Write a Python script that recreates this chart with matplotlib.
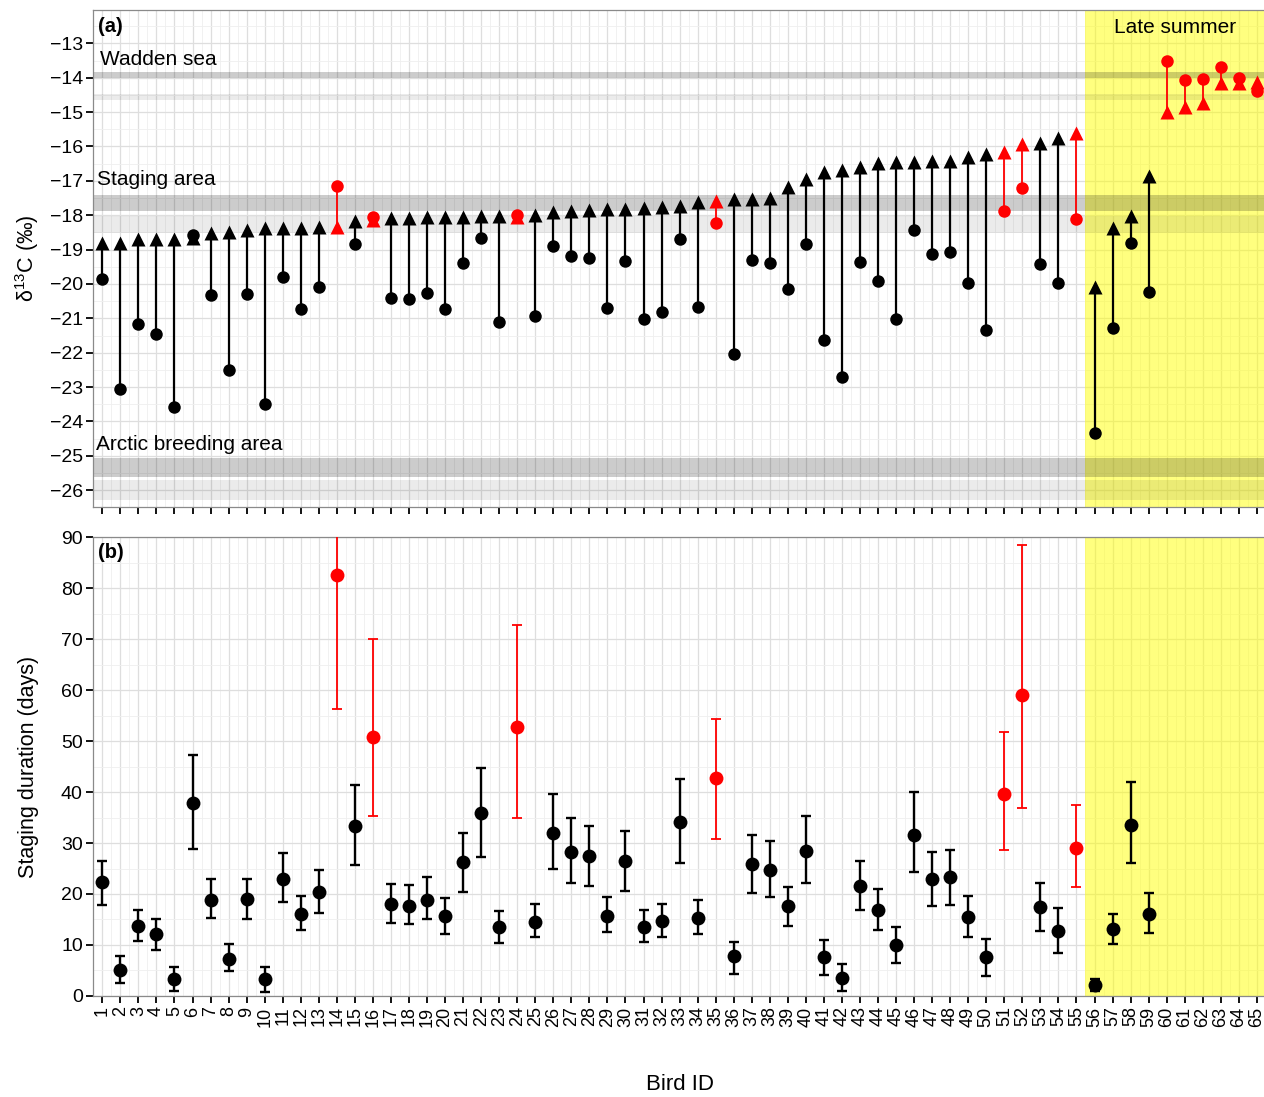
import numpy as np
import matplotlib
matplotlib.use('Agg')
import matplotlib.pyplot as plt
from matplotlib.ticker import MultipleLocator

plt.rcParams['font.family'] = ['Liberation Sans', 'DejaVu Sans']
plt.rcParams['mathtext.fontset'] = 'custom'
plt.rcParams['mathtext.rm'] = 'Liberation Sans'
plt.rcParams['mathtext.default'] = 'regular'

# --- data ---------------------------------------------------------------
bird_ids = list(range(1, 66))

# delta13C at start (circle) and end (triangle)
d13c_start = [-19.87, -23.07, -21.17, -21.47, -23.57, -18.58, -20.32, -22.49, -20.30, -23.50,
              -19.79, -20.73, -20.10, -17.14, -18.84, -18.06, -20.40, -20.45, -20.26, -20.74,
              -19.38, -18.66, -21.11, -17.98, -20.94, -18.90, -19.18, -19.24, -20.69, -19.34,
              -21.03, -20.83, -18.70, -20.68, -18.24, -22.04, -19.29, -19.40, -20.15, -18.85,
              -21.64, -22.70, -19.37, -19.92, -21.02, -18.43, -19.13, -19.08, -19.97, -21.33,
              -17.87, -17.21, -19.43, -19.98, -18.12, -24.35, -21.27, -18.80, -20.23, -13.51,
              -14.07, -14.03, -13.70, -14.02, -14.38]
d13c_end = [-18.82, -18.82, -18.68, -18.68, -18.68, -18.65, -18.53, -18.48, -18.43, -18.36,
            -18.36, -18.36, -18.34, -18.34, -18.16, -18.14, -18.09, -18.09, -18.04, -18.04,
            -18.04, -18.02, -18.02, -18.04, -17.98, -17.90, -17.87, -17.85, -17.83, -17.83,
            -17.79, -17.75, -17.72, -17.63, -17.59, -17.54, -17.52, -17.50, -17.19, -16.95,
            -16.73, -16.69, -16.59, -16.49, -16.46, -16.44, -16.42, -16.41, -16.30, -16.22,
            -16.16, -15.93, -15.89, -15.74, -15.62, -20.08, -18.36, -18.02, -16.85, -14.99,
            -14.84, -14.73, -14.16, -14.16, -14.12]
red_birds = [14, 16, 24, 35, 51, 52, 55, 60, 61, 62, 63, 64, 65]

# staging duration (days) with interval (birds 1-59)
stay_mean = [22.3, 5.1, 13.7, 12.1, 3.3, 37.8, 18.9, 7.3, 19.1, 3.3,
             22.9, 16.1, 20.4, 82.6, 33.4, 50.8, 18.0, 17.7, 18.9, 15.7,
             26.2, 35.8, 13.6, 52.8, 14.6, 31.9, 28.3, 27.4, 15.7, 26.4,
             13.6, 14.8, 34.1, 15.3, 42.7, 7.8, 25.9, 24.8, 17.6, 28.5,
             7.7, 3.6, 21.6, 16.9, 9.9, 31.5, 22.9, 23.3, 15.5, 7.6,
             39.6, 59.1, 17.5, 12.8, 29.0, 2.1, 13.2, 33.5, 16.1]
stay_low = [17.8, 2.6, 10.8, 9.1, 0.9, 28.9, 15.2, 4.8, 15.0, 0.8,
            18.4, 12.9, 16.3, 56.2, 25.6, 35.3, 14.3, 14.2, 15.1, 12.2,
            20.4, 27.2, 10.4, 35.0, 11.6, 25.0, 22.2, 21.5, 12.5, 20.6,
            10.5, 11.5, 26.1, 12.1, 30.8, 4.4, 20.2, 19.5, 13.7, 22.1,
            4.2, 0.9, 16.8, 12.9, 6.4, 24.3, 17.6, 17.8, 11.6, 3.9,
            28.7, 36.8, 12.8, 8.5, 21.3, 0.9, 10.2, 26.1, 12.4]
stay_high = [26.5, 7.8, 16.9, 15.0, 5.7, 47.2, 23.0, 10.2, 22.9, 5.7,
             28.0, 19.7, 24.8, 96.0, 41.3, 70.1, 21.9, 21.8, 23.3, 19.2,
             32.0, 44.7, 16.7, 72.7, 18.0, 39.7, 34.9, 33.4, 19.4, 32.3,
             16.9, 18.0, 42.5, 18.9, 54.3, 10.6, 31.5, 30.4, 21.4, 35.3,
             10.9, 6.2, 26.5, 21.0, 13.6, 40.0, 28.3, 28.7, 19.7, 11.1,
             51.7, 88.5, 22.2, 17.2, 37.4, 3.3, 16.1, 41.9, 20.1]

# reference bands (dark, light) for each habitat
band_names = ['Wadden sea', 'Staging area', 'Arctic breeding area']
band_dark = [(-14.02, -13.83), (-17.87, -17.40), (-25.63, -25.05)]
band_light = [(-14.65, -14.48), (-18.53, -18.03), (-26.29, -25.71)]
band_label_pos = [(0.87, -13.63), (0.71, -17.12), (0.65, -24.83)]
late_summer = (55.5, 65.5)

# --- figure -------------------------------------------------------------
fig = plt.figure(figsize=(12.64, 10.97), dpi=100)
ax1 = fig.add_axes([0.0738, 0.5378, 0.9277, 0.4531])
ax2 = fig.add_axes([0.0738, 0.0921, 0.9277, 0.4183])

def style_axes(ax):
    ax.set_axisbelow(True)
    ax.grid(which='major', color='#dedede', linewidth=0.9)
    ax.grid(which='minor', color='#efefef', linewidth=0.6)
    for s in ax.spines.values():
        s.set_color('#8a8a8a')
        s.set_linewidth(0.9)
    ax.tick_params(which='major', length=5, width=1.3, color='black',
                   labelcolor='black', labelsize=14, pad=2.5)
    ax.tick_params(which='minor', length=0)
    ax.set_xlim(0.5, 65.5)
    ax.set_xticks(bird_ids)
    ax.xaxis.set_minor_locator(MultipleLocator(0.5))
    ax.axvspan(*late_summer, color=(1, 1, 0), alpha=0.5, lw=0, zorder=1)

# panel (a)
style_axes(ax1)
for (lo, hi) in band_dark:
    ax1.axhspan(lo, hi, color='black', alpha=0.2, lw=0, zorder=1.2)
for (lo, hi) in band_light:
    ax1.axhspan(lo, hi, color='black', alpha=0.08, lw=0, zorder=1.2)
for name, (tx, ty) in zip(band_names, band_label_pos):
    ax1.text(tx, ty, name, fontsize=15, va='baseline', ha='left', zorder=5)
ax1.text(60.49, -12.71, 'Late summer', fontsize=15, va='baseline', ha='center', zorder=5)

for b, s, e in zip(bird_ids, d13c_start, d13c_end):
    c = 'red' if b in red_birds else 'black'
    lw = 1.3 if b in red_birds else 1.6
    ax1.plot([b, b], [s, e], color=c, lw=lw, zorder=3, solid_capstyle='butt')
    ax1.plot(b, e, marker='^', ms=10.5, color=c, mec='none', zorder=4)
for b, s in zip(bird_ids, d13c_start):
    c = 'red' if b in red_birds else 'black'
    ax1.plot(b, s, marker='o', ms=9, color=c, mec='none', zorder=4.5)

ax1.set_ylim(-26.49, -12.03)
ax1.set_yticks(range(-26, -12))
ax1.set_yticklabels(['\u2212%d' % abs(v) for v in range(-26, -12)])
ax1.yaxis.set_minor_locator(MultipleLocator(0.5))
ax1.set_xticklabels([])
ax1.set_ylabel('δ$^{13}$C (‰)', fontsize=15.5, labelpad=6)
ax1.text(0.004, 0.956, '(a)', transform=ax1.transAxes, fontsize=14.5,
         fontweight='bold', va='baseline', ha='left')

# panel (b)
style_axes(ax2)
n = len(stay_mean)
for b, m, lo, hi in zip(bird_ids[:n], stay_mean, stay_low, stay_high):
    c = 'red' if b in red_birds else 'black'
    lw = 1.3 if b in red_birds else 1.7
    ax2.errorbar(b, m, yerr=[[m - lo], [hi - m]], fmt='o', color=c, ms=10,
                 mec='none', elinewidth=lw, capsize=3.5, capthick=lw, zorder=4)
ax2.set_ylim(0, 90)
ax2.set_yticks(range(0, 91, 10))
ax2.yaxis.set_minor_locator(MultipleLocator(5))
ax2.set_xticklabels([str(b) for b in bird_ids], rotation=90, fontsize=13)
ax2.set_ylabel('Staging duration (days)', fontsize=15.5, labelpad=16)
ax2.set_xlabel('Bird ID', fontsize=16, labelpad=34)
ax2.text(0.004, 0.954, '(b)', transform=ax2.transAxes, fontsize=14.5,
         fontweight='bold', va='baseline', ha='left')

fig.savefig('out.png', dpi=100)
